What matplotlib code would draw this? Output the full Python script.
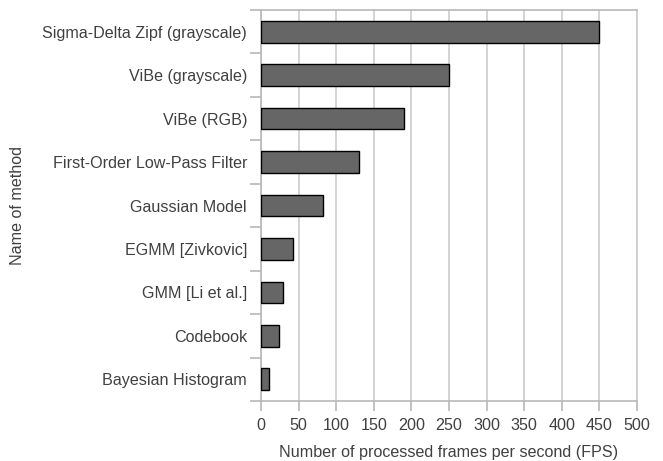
import numpy as np
import matplotlib
matplotlib.use("Agg")
import matplotlib.pyplot as plt

# Data (top to bottom as shown)
methods = [
    "Sigma-Delta Zipf (grayscale)",
    "ViBe (grayscale)",
    "ViBe (RGB)",
    "First-Order Low-Pass Filter",
    "Gaussian Model",
    "EGMM [Zivkovic]",
    "GMM [Li et al.]",
    "Codebook",
    "Bayesian Histogram",
]
fps = [450, 250, 190, 130, 83, 43, 29, 24, 11]
xticks = [0, 50, 100, 150, 200, 250, 300, 350, 400, 450, 500]

plt.rcParams['font.family'] = ['Liberation Sans', 'DejaVu Sans']
text_color = "#404040"
line_color = "#b8b8b8"

fig = plt.figure(figsize=(6.63, 4.61), dpi=100)
ax = fig.add_axes([261 / 663, 1 - 401 / 461, 376 / 663, 391 / 461])

y = np.arange(len(methods))[::-1]
ax.barh(y, fps, height=0.5, color="#666666", edgecolor="black", linewidth=1.0, zorder=3)

ax.set_xlim(0, 500)
ax.set_ylim(-0.5, len(methods) - 0.5)
ax.set_xticks(xticks)
ax.set_xticklabels([str(v) for v in xticks])

# category labels at centers, tick marks at the boundaries
ax.set_yticks(np.arange(-0.5, len(methods), 1.0))
ax.set_yticklabels([])
ax.set_yticks(y, minor=True)
ax.set_yticklabels(methods, minor=True)
ax.tick_params(axis="y", which="minor", length=0, pad=10, labelsize=11.6, labelcolor=text_color)
ax.tick_params(axis="y", which="major", length=8, color=line_color, width=1.2)
ax.tick_params(axis="x", length=7, color=line_color, width=1.2, pad=5,
               labelsize=11.6, labelcolor=text_color)

ax.grid(axis="x", color="#cccccc", linewidth=1.2, zorder=0)
for s in ax.spines.values():
    s.set_color(line_color)
    s.set_linewidth(1.2)
ax.spines["right"].set_color("#cccccc")

ax.set_xlabel("Number of processed frames per second (FPS)", fontsize=11.6,
              color=text_color, labelpad=9)
ax.set_ylabel("Name of method", fontsize=11.6, color=text_color)
ax.yaxis.set_label_coords(-236 / 376, 0.5)

fig.savefig("out.png", dpi=100)
